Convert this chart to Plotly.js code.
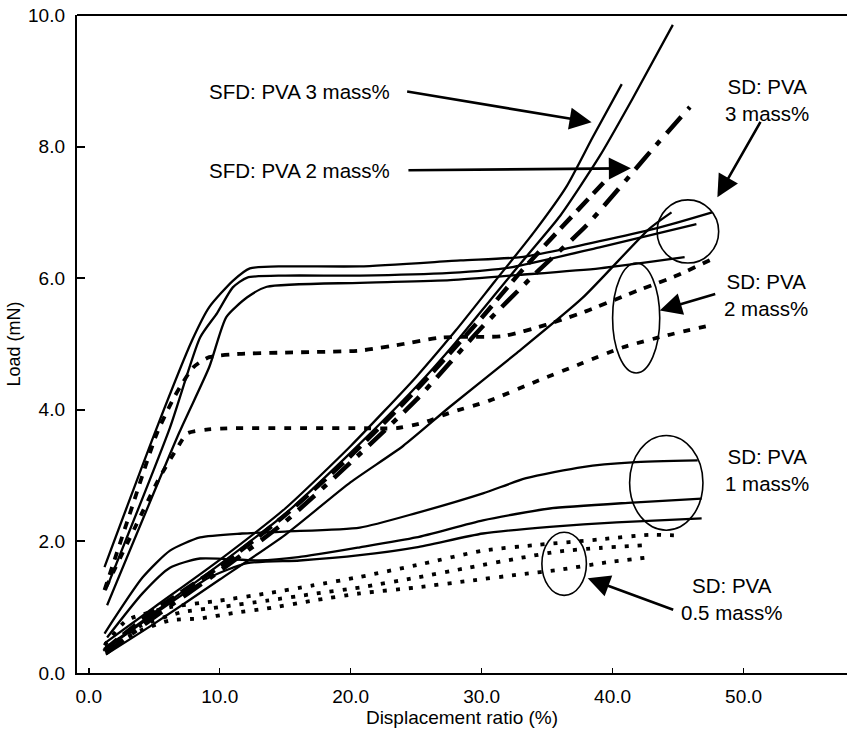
<!DOCTYPE html>
<html>
<head>
<meta charset="utf-8">
<script src="https://cdn.plot.ly/plotly-3.0.1.min.js"></script>
<style>html,body{margin:0;padding:0;background:#fff;}#chart{width:847px;height:732px;}</style>
</head>
<body>
<div id="chart"></div>
<script>
// ---- tick labels ----
const xTickVals = [0, 10, 20, 30, 40, 50];
const xTickText = ["0.0", "10.0", "20.0", "30.0", "40.0", "50.0"];
const yTickVals = [0, 2, 4, 6, 8, 10];
const yTickText = ["0.0", "2.0", "4.0", "6.0", "8.0", "10.0"];

// ---- SFD: PVA 3 mass% (solid) ----
const sfd3a_x = [1.2, 5, 10, 15, 20, 25, 28, 31, 34, 36.5, 38.5, 40.7];
const sfd3a_y = [0.45, 1.0, 1.72, 2.5, 3.45, 4.5, 5.2, 5.95, 6.7, 7.4, 8.15, 8.95];
const sfd3b_x = [1.3, 5, 10, 15, 20, 25, 28, 31, 33.5, 36, 39, 41.5, 44.6];
const sfd3b_y = [0.38, 0.92, 1.65, 2.42, 3.35, 4.35, 5.02, 5.75, 6.35, 6.95, 7.85, 8.72, 9.85];
const sfd3c_x = [1.3, 5, 10, 15, 20, 24, 27.6, 32.6, 37.7, 42.8, 44.5];
const sfd3c_y = [0.28, 0.75, 1.42, 2.1, 2.9, 3.45, 4.05, 4.85, 5.7, 6.75, 7.0];

// ---- SFD: PVA 2 mass% (heavy dash / dash-dot) ----
const sfd2a_x = [1.3, 5, 10, 15, 20, 25, 30, 34, 38, 41.5, 43, 45.9];
const sfd2a_y = [0.3, 0.85, 1.55, 2.3, 3.2, 4.15, 5.25, 6.05, 6.8, 7.6, 7.95, 8.6];
const sfd2b_x = [1.2, 5, 10, 15, 20, 25, 30, 33, 36, 39.3];
const sfd2b_y = [0.35, 0.95, 1.62, 2.4, 3.3, 4.3, 5.4, 6.1, 6.75, 7.45];

// ---- SD: PVA 3 mass% (solid) ----
const sd3a_x = [1.2, 5.2, 7.9, 9.2, 11, 12.3, 15, 20.7, 28.4, 33, 36, 43.4, 47.6];
const sd3a_y = [1.61, 3.73, 5.06, 5.56, 5.96, 6.15, 6.18, 6.18, 6.27, 6.32, 6.43, 6.76, 7.0];
const sd3b_x = [1.3, 6.2, 8.5, 9.8, 11, 12.1, 15, 20.7, 27.6, 32.1, 39, 46.4];
const sd3b_y = [1.26, 3.73, 5.1, 5.47, 5.86, 6.01, 6.04, 6.04, 6.08, 6.16, 6.47, 6.82];
const sd3c_x = [1.4, 6.9, 9.2, 10.5, 12.1, 13.6, 20.7, 27.6, 32.9, 39, 45.5];
const sd3c_y = [1.03, 3.65, 4.65, 5.41, 5.71, 5.87, 5.93, 5.97, 6.05, 6.15, 6.32];

// ---- SD: PVA 2 mass% (dashed) ----
const sd2a_x = [1.2, 3.1, 5.2, 6.6, 8, 9.2, 11.5, 15, 20.7, 24, 27, 31.6, 34.9, 38, 41.5, 44.9, 47.9];
const sd2a_y = [1.26, 2.4, 3.64, 4.22, 4.65, 4.8, 4.85, 4.87, 4.9, 5.0, 5.1, 5.12, 5.29, 5.5, 5.78, 6.04, 6.32];
const sd2b_x = [1.3, 3.5, 5.4, 6.7, 7.5, 9, 11, 15, 20.7, 23.5, 25.5, 27.5, 30.6, 34.4, 37.7, 40.8, 44.1, 47.4];
const sd2b_y = [1.3, 2.2, 2.97, 3.4, 3.64, 3.7, 3.72, 3.72, 3.72, 3.72, 3.8, 3.95, 4.14, 4.45, 4.71, 4.95, 5.13, 5.28];

// ---- SD: PVA 1 mass% (solid) ----
const sd1a_x = [1.2, 4.1, 6.2, 8.5, 11.7, 15, 20.7, 25, 30.1, 33.4, 37.7, 41.5, 46.5];
const sd1a_y = [0.6, 1.45, 1.86, 2.06, 2.12, 2.15, 2.21, 2.43, 2.73, 2.96, 3.13, 3.2, 3.23];
const sd1b_x = [1.4, 4.1, 6.2, 8.5, 13, 16, 20.7, 25, 30.1, 35.2, 41.5, 46.8];
const sd1b_y = [0.54, 1.21, 1.6, 1.74, 1.71, 1.76, 1.91, 2.06, 2.32, 2.5, 2.59, 2.65];
const sd1c_x = [1.1, 5.4, 9.2, 12.1, 16.1, 20.7, 25, 30.1, 35.2, 40.3, 46.8];
const sd1c_y = [0.34, 0.95, 1.45, 1.67, 1.71, 1.79, 1.91, 2.12, 2.22, 2.29, 2.35];

// ---- SD: PVA 0.5 mass% (dotted) ----
const sd05a_x = [1.2, 2.9, 6.2, 10, 13.6, 17.1, 20.7, 25.5, 30.1, 34.4, 39, 42.8, 45.1];
const sd05a_y = [0.42, 0.8, 1.0, 1.1, 1.21, 1.33, 1.46, 1.66, 1.86, 1.95, 2.03, 2.1, 2.09];
const sd05b_x = [1.3, 4, 7, 10, 13.6, 17.1, 20.7, 25, 29, 33, 36, 39, 42.3];
const sd05b_y = [0.38, 0.72, 0.92, 1.0, 1.1, 1.2, 1.3, 1.45, 1.6, 1.75, 1.85, 1.9, 1.94];
const sd05c_x = [1.3, 4, 6.2, 8.5, 11, 13.6, 17.1, 20.7, 25, 29, 33, 36, 39.5, 42.8];
const sd05c_y = [0.35, 0.65, 0.8, 0.83, 0.91, 0.98, 1.1, 1.21, 1.3, 1.4, 1.5, 1.57, 1.68, 1.76];

const FONT = "Liberation Sans, Arial, Helvetica, sans-serif";

function tr(name, x, y, width, dash) {
  return {
    type: "scatter", mode: "lines", name: name, x: x, y: y,
    line: {color: "#000", width: width, dash: dash, shape: "spline", smoothing: 0.6},
    showlegend: false, hoverinfo: "skip"
  };
}

const traces = [
  tr("SD: PVA 0.5 mass% (a)", sd05a_x, sd05a_y, 3.8, "4px,9px"),
  tr("SD: PVA 0.5 mass% (b)", sd05b_x, sd05b_y, 3.8, "4px,9px"),
  tr("SD: PVA 0.5 mass% (c)", sd05c_x, sd05c_y, 3.8, "4px,9px"),
  tr("SD: PVA 1 mass% (a)", sd1a_x, sd1a_y, 2.3, "solid"),
  tr("SD: PVA 1 mass% (b)", sd1b_x, sd1b_y, 2.3, "solid"),
  tr("SD: PVA 1 mass% (c)", sd1c_x, sd1c_y, 2.3, "solid"),
  tr("SD: PVA 2 mass% (a)", sd2a_x, sd2a_y, 3.8, "8px,8px"),
  tr("SD: PVA 2 mass% (b)", sd2b_x, sd2b_y, 3.8, "7px,9px"),
  tr("SD: PVA 3 mass% (a)", sd3a_x, sd3a_y, 2.3, "solid"),
  tr("SD: PVA 3 mass% (b)", sd3b_x, sd3b_y, 2.3, "solid"),
  tr("SD: PVA 3 mass% (c)", sd3c_x, sd3c_y, 2.3, "solid"),
  tr("SFD: PVA 2 mass% (a)", sfd2a_x, sfd2a_y, 4.5, "22px,10px,6px,10px"),
  tr("SFD: PVA 2 mass% (b)", sfd2b_x, sfd2b_y, 4.5, "16px,8px"),
  tr("SFD: PVA 3 mass% (a)", sfd3a_x, sfd3a_y, 2.3, "solid"),
  tr("SFD: PVA 3 mass% (b)", sfd3b_x, sfd3b_y, 2.3, "solid"),
  tr("SFD: PVA 3 mass% (c)", sfd3c_x, sfd3c_y, 2.3, "solid")
];

const txt = (text, x, y, xanchor) => ({
  text: text, x: x, y: y, xref: "x", yref: "y", xanchor: xanchor || "center", yanchor: "middle",
  showarrow: false, align: "center", font: {family: FONT, size: 20.5, color: "#000"}
});
const arr = (x, y, ax, ay) => ({
  text: "", x: x, y: y, xref: "x", yref: "y", ax: ax, ay: ay, axref: "pixel", ayref: "pixel",
  showarrow: true, arrowhead: 2, arrowsize: 1.7, arrowwidth: 2.6, arrowcolor: "#000", standoff: 0
});

const annotations = [
  txt("SFD: PVA 3 mass%", 9.0, 8.83, "left"),
  txt("SFD: PVA 2 mass%", 9.0, 7.64, "left"),
  txt("SD: PVA<br>3 mass%", 51.8, 8.71),
  txt("SD: PVA<br>2 mass%", 51.7, 5.74),
  txt("SD: PVA<br>1 mass%", 51.8, 3.09),
  txt("SD: PVA<br>0.5 mass%", 49.1, 1.13),
  arr(38.4, 8.37, -186, -31),
  arr(41.4, 7.67, -224, 2),
  arr(48.0, 7.23, 44, -77),
  arr(43.6, 5.51, 57, -17),
  arr(38.1, 1.44, 87, 32)
];

const ell = (x0, x1, y0, y1) => ({
  type: "circle", xref: "x", yref: "y", x0: x0, x1: x1, y0: y0, y1: y1,
  line: {color: "#000", width: 1.6}, fillcolor: "rgba(0,0,0,0)"
});

const shapes = [
  ell(43.4, 48.1, 6.23, 7.19),
  ell(40.0, 43.6, 4.56, 6.23),
  ell(41.3, 46.9, 2.17, 3.61),
  ell(34.6, 38.0, 1.18, 2.14),
  {type: "line", xref: "paper", yref: "paper", x0: 0, x1: 1, y0: 1, y1: 1, line: {color: "#000", width: 2}}
];

const layout = {
  width: 847, height: 732,
  margin: {l: 77, r: 0, t: 15, b: 59},
  paper_bgcolor: "#fff", plot_bgcolor: "#fff",
  font: {family: FONT, size: 19, color: "#000"},
  showlegend: false,
  xaxis: {
    range: [-0.9, 57.9], tickvals: xTickVals, ticktext: xTickText,
    ticks: "inside", ticklen: 5, tickwidth: 1.5, tickcolor: "#000",
    showline: true, linewidth: 2.2, linecolor: "#000", showgrid: false, zeroline: false,
    tickfont: {family: FONT, size: 19}, ticklabelstandoff: 5,
    title: {text: "Displacement ratio (%)", font: {family: FONT, size: 19}, standoff: 3}
  },
  yaxis: {
    range: [0, 10], tickvals: yTickVals, ticktext: yTickText,
    ticks: "inside", ticklen: 8, tickwidth: 2, tickcolor: "#000",
    showline: true, linewidth: 2.2, linecolor: "#000", showgrid: false, zeroline: false,
    tickfont: {family: FONT, size: 19}, ticklabelstandoff: 6,
    title: {text: "Load (mN)", font: {family: FONT, size: 18}, standoff: 3}
  },
  annotations: annotations,
  shapes: shapes
};

Plotly.newPlot("chart", traces, layout, {displayModeBar: false, staticPlot: true});
</script>
</body>
</html>
